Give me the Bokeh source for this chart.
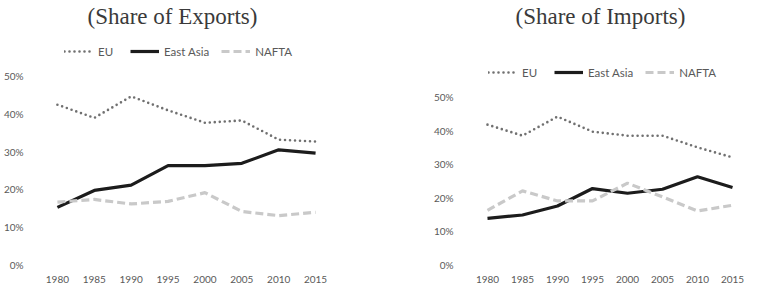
from bokeh.plotting import figure
from bokeh.layouts import row
from bokeh.models import (FixedTicker, NumeralTickFormatter, Legend, LegendItem,
                          Range1d, Label)
from bokeh.embed import file_html
from bokeh.resources import INLINE

years = [1980, 1985, 1990, 1995, 2000, 2005, 2010, 2015]
y_ticks = [0.0, 0.1, 0.2, 0.3, 0.4, 0.5]

exp_eu = [0.425, 0.390, 0.447, 0.410, 0.377, 0.383, 0.332, 0.327]
exp_east_asia = [0.152, 0.197, 0.211, 0.263, 0.263, 0.269, 0.305, 0.296]
exp_nafta = [0.166, 0.173, 0.161, 0.168, 0.191, 0.141, 0.130, 0.139]

imp_eu = [0.418, 0.385, 0.442, 0.397, 0.385, 0.385, 0.350, 0.320]
imp_east_asia = [0.138, 0.148, 0.175, 0.227, 0.213, 0.225, 0.262, 0.230]
imp_nafta = [0.162, 0.220, 0.190, 0.190, 0.243, 0.202, 0.160, 0.177]

label_font = "Lato"
label_color = "#595959"


def make_chart(title, eu, ea, nafta, width, border_left, border_right,
               x_rng, y_end, title_pos, legend_loc, ylab_standoff):
    p = figure(width=width, height=289, output_backend="svg",
               toolbar_location=None, min_border_left=border_left,
               min_border_right=border_right, min_border_top=0,
               min_border_bottom=25,
               x_range=Range1d(*x_rng), y_range=Range1d(0, y_end))
    p.outline_line_color = None
    p.background_fill_color = None
    p.border_fill_color = None

    t = Label(x=title_pos[0], y=title_pos[1], x_units="screen",
              y_units="screen", text=title, text_font="Liberation Serif",
              text_font_size="23px", text_color="#3a3a3a",
              text_align="left", text_baseline="middle")
    p.add_layout(t)

    r_eu = p.line(years, eu, line_color="#707070", line_width=2.6,
                  line_dash="0 5", line_cap="round")
    r_ea = p.line(years, ea, line_color="#1c1c1c", line_width=3.2,
                  line_join="round")
    r_na = p.line(years, nafta, line_color="#c9c9c9", line_width=3.2,
                  line_dash="8 4")

    legend = Legend(items=[LegendItem(label="EU", renderers=[r_eu]),
                           LegendItem(label="East Asia", renderers=[r_ea]),
                           LegendItem(label="NAFTA", renderers=[r_na])],
                    orientation="horizontal", location=legend_loc,
                    background_fill_alpha=0, border_line_alpha=0,
                    padding=0, margin=0, spacing=12, glyph_width=29,
                    label_standoff=5, label_text_font=label_font,
                    label_text_font_size="11.5px", label_text_color=label_color)
    p.add_layout(legend, "center")

    p.xaxis.ticker = FixedTicker(ticks=years)
    p.yaxis.ticker = FixedTicker(ticks=y_ticks)
    p.yaxis.formatter = NumeralTickFormatter(format="0%")
    for ax in (p.xaxis, p.yaxis):
        ax.axis_line_color = None
        ax.major_tick_line_color = None
        ax.minor_tick_line_color = None
        ax.major_label_text_font = label_font
        ax.major_label_text_font_size = "10px"
        ax.major_label_text_color = label_color
    p.xaxis.major_label_standoff = 5
    p.yaxis.major_label_standoff = ylab_standoff

    p.xgrid.grid_line_color = None
    p.ygrid.ticker = FixedTicker(ticks=[0.0])
    p.ygrid.grid_line_color = "#d9d9d9"
    p.ygrid.grid_line_width = 1
    return p


left = make_chart("(Share of Exports)", exp_eu, exp_east_asia, exp_nafta,
                  width=380, border_left=35, border_right=45,
                  x_rng=(1977.3, 2017.7), y_end=0.7021, title_pos=(50, 248),
                  legend_loc=(27, 203), ylab_standoff=8)
right = make_chart("(Share of Imports)", imp_eu, imp_east_asia, imp_nafta,
                   width=381, border_left=89, border_right=11,
                   x_rng=(1977.43, 2017.57), y_end=0.789, title_pos=(46, 248),
                   legend_loc=(19, 182), ylab_standoff=10)

layout = row(left, right, spacing=0)
open("out.html", "w").write(file_html(layout, INLINE))
